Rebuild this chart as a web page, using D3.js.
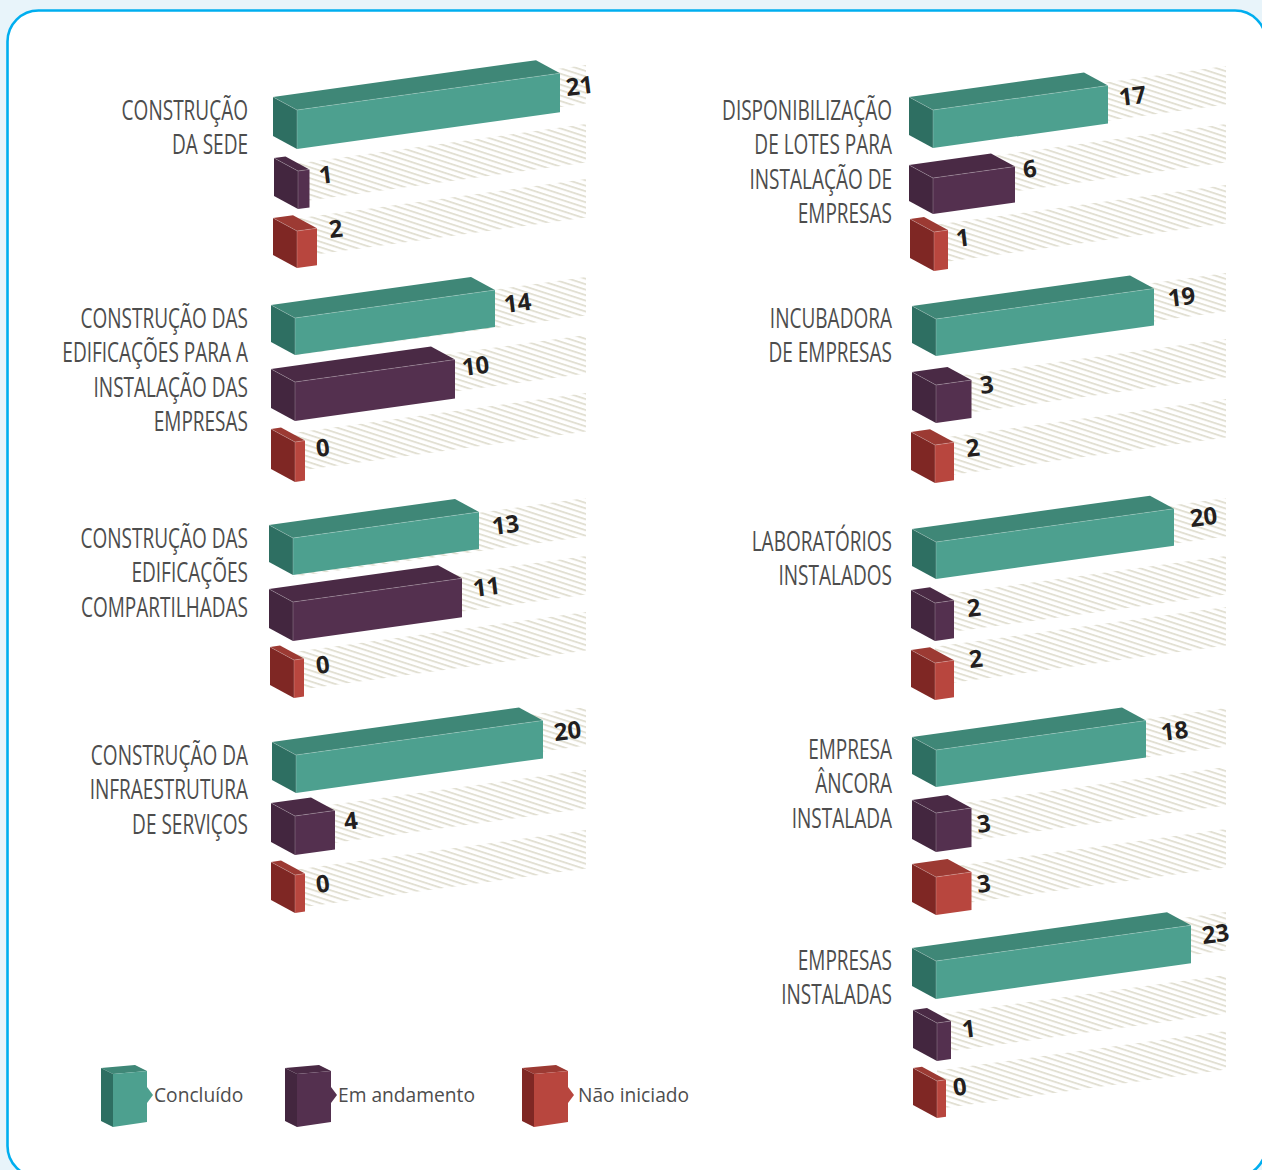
<!DOCTYPE html>
<html><head><meta charset="utf-8">
<script src="https://cdn.jsdelivr.net/npm/d3@7"></script>
<style>html,body{margin:0;padding:0;background:#e8f4fa}svg{display:block}</style>
</head><body><div id="chart"></div>
<script>
// ---- data ----
const categories = [
  ["CONSTRUÇÃO","DA SEDE"],
  ["CONSTRUÇÃO DAS","EDIFICAÇÕES PARA A","INSTALAÇÃO DAS","EMPRESAS"],
  ["CONSTRUÇÃO DAS","EDIFICAÇÕES","COMPARTILHADAS"],
  ["CONSTRUÇÃO DA","INFRAESTRUTURA","DE SERVIÇOS"],
  ["DISPONIBILIZAÇÃO","DE LOTES PARA","INSTALAÇÃO DE","EMPRESAS"],
  ["INCUBADORA","DE EMPRESAS"],
  ["LABORATÓRIOS","INSTALADOS"],
  ["EMPRESA","ÂNCORA","INSTALADA"],
  ["EMPRESAS","INSTALADAS"]
];
const concluido   = [21,14,13,20,17,19,20,18,23];
const emAndamento = [1,10,11,4,6,3,2,3,1];
const naoIniciado = [2,0,0,0,1,2,2,3,0];
const seriesNames = ["Concluído","Em andamento","Não iniciado"];

// ---- layout (separate from the data) ----
const W=1262,H=1170;
const colorsFront=["#4da08f","#54304f","#b8463e"], colorsSide=["#2e6f62","#43263f","#7f2724"], colorsTop=["#3f8777","#4a2a45","#9c3a33"];
const SLOPE=0.14, DX=24, DY=13;
// the printed bars are not to one scale: each column has its own piecewise value->length scale
const lenLeft = d3.scaleLinear().domain([0,1,2,4,10,11,13,14,20,21]).range([10,11.5,20,40,160,169,186,200,247,263]);
const lenRight= d3.scaleLinear().domain([0,1,2,3,6,17,18,19,20,23]).range([9,14,19,35.5,82,175,210,218,238,255]);
// per group: column, first text baseline
const groupLayout=[[0,120],[0,328],[0,548],[0,765],[1,120],[1,328],[1,551],[1,759],[1,970]];
// per bar: front-left x, front-top y, bottom y, band top at right edge, label x, label centre y
const barLayout=[
 [[297,110,149,65,567,87],[298,171,209,124,320,175],[297,231,268,179,330,229]],
 [[295,318,355,277,505,304],[295,382,421,335,463,367],[295,442,482,393,317,448]],
 [[293,538,575,498,493,526],[293,602,641,556,474,588],[294,660,698,612,317,665]],
 [[296,755,793,707,555,732],[295,816,855,770,345,821],[295,875,913,830,317,884]],
 [[933,110,148,66,1120,97],[933,178,214,124,1024,169],[934,232,271,185,957,238]],
 [[936,319,356,273,1169,298],[936,385,423,339,981,385],[935,445,483,399,967,448]],
 [[936,542,579,498,1191,518],[935,603,641,556,968,608],[935,663,700,607,970,659]],
 [[936,750,787,708,1162,732],[936,813,852,767,978,824],[936,877,915,829,978,884]],
 [[936,961,999,912,1203,935],[937,1023,1061,975,963,1029],[937,1081,1118,1031,954,1087]]
];
const columns=[{textX:248,bandX:586,len:lenLeft},{textX:892,bandX:1226,len:lenRight}];
const LINE=34.3, BAND_H=38.5, BAND_SLOPE=0.137;

const svg=d3.select("#chart").append("svg").attr("width",W).attr("height",H);
const defs=svg.append("defs");
const pat=defs.append("pattern").attr("id","hatch").attr("patternUnits","userSpaceOnUse")
  .attr("width",40).attr("height",5.2).attr("patternTransform","rotate(18)");
pat.append("rect").attr("width",40).attr("height",1.9).attr("fill","#e2e0d3");

svg.append("rect").attr("width",W).attr("height",H).attr("fill","#e8f4fa");
svg.append("rect").attr("x",7.5).attr("y",10.5).attr("width",1258.5).attr("height",1166.5).attr("rx",31).attr("ry",31)
  .attr("fill","#ffffff").attr("stroke","#00aeef").attr("stroke-width",2.6);

const line=d3.line();
function drawBar(g,fx,fy,bottom,L,c){
  const h=bottom-fy, dy=L*SLOPE;
  g.append("path").attr("d",line([[fx,fy],[fx+L,fy-dy],[fx+L-DX,fy-dy-DY],[fx-DX,fy-DY]])+"Z").attr("fill",colorsTop[c]);
  g.append("path").attr("d",line([[fx-DX,fy-DY],[fx,fy],[fx,fy+h],[fx-DX,fy+h-DY]])+"Z").attr("fill",colorsSide[c]);
  g.append("path").attr("d",line([[fx,fy],[fx+L,fy-dy],[fx+L,fy-dy+h],[fx,fy+h]])+"Z").attr("fill",colorsFront[c]);
  g.append("path").attr("d",line([[fx-DX,fy-DY],[fx,fy],[fx+L,fy-dy]])).attr("fill","none").attr("stroke","#ffffff").attr("stroke-opacity",.3).attr("stroke-width",.7);
  g.append("path").attr("d",line([[fx,fy],[fx,fy+h]])).attr("fill","none").attr("stroke","#ffffff").attr("stroke-opacity",.3).attr("stroke-width",.7);
}

// width of the condensed caption face, taken from the reference's text widths
const probe=svg.append("text").attr("font-family","'Open Sans',sans-serif").attr("font-size",27).text("DISPONIBILIZAÇÃO");
const catScale=170/probe.node().getComputedTextLength();
probe.remove();

const seriesVals=[concluido,emAndamento,naoIniciado];
const bandG=svg.append("g"), barG=svg.append("g"), txtG=svg.append("g");
categories.forEach((lines,i)=>{
  const [ci,base]=groupLayout[i], col=columns[ci];
  lines.forEach((t,j)=>{
    txtG.append("text").attr("class","cat").attr("text-anchor","end")
      .attr("transform",`translate(${col.textX},${base+j*LINE}) scale(${catScale},1)`)
      .attr("font-family","'Open Sans',sans-serif").attr("font-size",27)
      .attr("fill","#4d4d4d").text(t);
  });
  seriesVals.forEach((vals,s)=>{
    const v=vals[i], [fx,fy,bottom,bandTop,lx,ly]=barLayout[i][s];
    const L=col.len(v);
    const x0=fx, yT=bandTop+(col.bandX-x0)*BAND_SLOPE;
    bandG.append("path").attr("d",line([[x0,yT],[col.bandX,bandTop],[col.bandX,bandTop+BAND_H],[x0,yT+BAND_H]])+"Z").attr("fill","url(#hatch)");
    drawBar(barG,fx,fy,bottom,L,s);
    txtG.append("text").attr("transform",`translate(${lx},${ly+9}) rotate(-7)`)
      .attr("font-family","'Open Sans',sans-serif").attr("font-weight",700).attr("font-size",24)
      .attr("fill","#231f20").text(v);
  });
});

// legend
const legendX=[113,297,534], legendTextX=[154,338,578];
seriesNames.forEach((n,s)=>{
  const fx=legendX[s], g=svg.append("g"), w=34, dx=12;
  g.append("path").attr("d",line([[fx,1074],[fx+w,1071],[fx+w-dx,1065],[fx-dx,1068]])+"Z").attr("fill",colorsTop[s]);
  g.append("path").attr("d",line([[fx-dx,1068],[fx,1074],[fx,1127],[fx-dx,1121]])+"Z").attr("fill",colorsSide[s]);
  g.append("path").attr("d",line([[fx,1074],[fx+w,1071],[fx+w,1087],[fx+w+6,1095],[fx+w,1103],[fx+w,1122],[fx,1127]])+"Z").attr("fill",colorsFront[s]);
  svg.append("text").attr("transform",`translate(${legendTextX[s]},1102) scale(0.96,1)`).attr("font-family","'Open Sans',sans-serif").attr("font-size",20).attr("fill","#4d4d4d").text(n);
});
</script></body></html>
